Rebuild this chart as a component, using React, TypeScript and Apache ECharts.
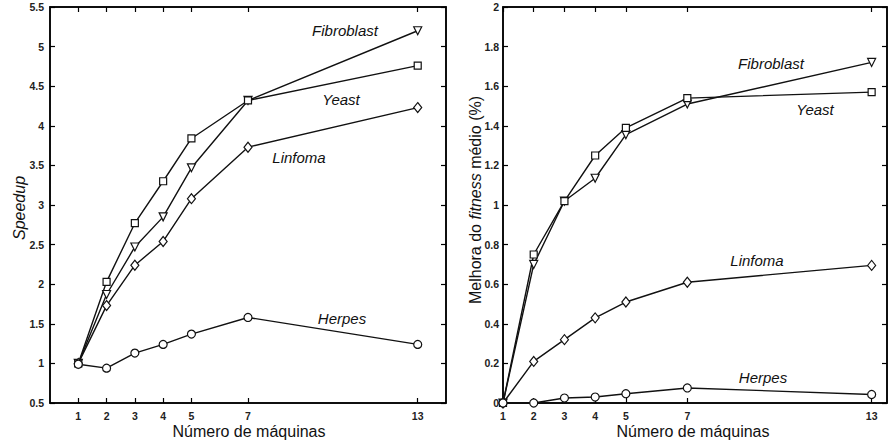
import React, { useEffect, useRef } from "react";
import * as echarts from "echarts";

const machines = [1, 2, 3, 4, 5, 7, 13];
const xTicks = [1, 2, 3, 4, 5, 7, 13];

const speedupFibroblast = [1.0, 1.87, 2.47, 2.85, 3.47, 4.32, 5.2];
const speedupYeast = [1.0, 2.03, 2.77, 3.3, 3.84, 4.32, 4.76];
const speedupLinfoma = [1.0, 1.73, 2.24, 2.54, 3.08, 3.73, 4.23];
const speedupHerpes = [0.99, 0.94, 1.13, 1.24, 1.37, 1.58, 1.24];

const fitnessFibroblast = [0, 0.7, 1.02, 1.135, 1.355, 1.51, 1.72];
const fitnessYeast = [0, 0.75, 1.02, 1.25, 1.39, 1.54, 1.57];
const fitnessLinfoma = [0, 0.21, 0.32, 0.43, 0.51, 0.61, 0.695];
const fitnessHerpes = [0, 0, 0.025, 0.03, 0.047, 0.076, 0.043];

const FONT = "'Liberation Sans', Arial, Helvetica, sans-serif";

export default function App() {
  const ref = useRef<HTMLDivElement>(null);
  useEffect(() => {
    if (!ref.current) return;
    const chart = echarts.init(ref.current, null, { renderer: "svg" });

    const axisLine = { show: true, onZero: false, lineStyle: { color: "#000", width: 1.5 } };
    const tick = (vals?: number[]) => ({
      show: true,
      inside: true,
      length: 5,
      lineStyle: { color: "#000", width: 1.2 },
      ...(vals ? { customValues: vals } : {}),
    });
    const label = {
      color: "#222",
      fontSize: 10.5,
      fontWeight: "bold",
      fontFamily: FONT,
      margin: 7,
    };

    const pair = (vals: number[]) => vals.map((v, i) => [machines[i], v]);

    const mk = (
      name: string,
      data: number[],
      symbol: string,
      size: number | number[],
      rot: number,
      xi: number,
      yi: number
    ) => ({
      type: "line",
      name,
      xAxisIndex: xi,
      yAxisIndex: yi,
      data: pair(data),
      symbol,
      symbolSize: size,
      symbolRotate: rot,
      showAllSymbol: true,
      lineStyle: { color: "#111", width: 1.4 },
      itemStyle: { color: "#fff", borderColor: "#111", borderWidth: 1.2 },
      z: 3,
    });

    const txt = (text: string, x: number, y: number) => ({
      type: "text",
      x,
      y,
      style: {
        text,
        font: `italic 15px ${FONT}`,
        fill: "#111",
        align: "center",
        verticalAlign: "middle",
      },
    });

    chart.setOption({
      animation: false,
      backgroundColor: "#fff",
      grid: [
        { left: 50, top: 7, width: 396, height: 396, show: true, borderColor: "#000", borderWidth: 1.5, backgroundColor: "transparent" },
        { left: 503, top: 7, width: 384, height: 396, show: true, borderColor: "#000", borderWidth: 1.5, backgroundColor: "transparent" },
      ],
      xAxis: [
        { gridIndex: 0, type: "value", min: 0, max: 14, position: "bottom", axisLine, axisTick: tick(xTicks), axisLabel: { ...label, customValues: xTicks }, splitLine: { show: false } },
        { gridIndex: 0, type: "value", min: 0, max: 14, position: "top", axisLine, axisTick: tick(xTicks), axisLabel: { show: false }, splitLine: { show: false } },
        { gridIndex: 1, type: "value", min: 1, max: 13.5, position: "bottom", axisLine, axisTick: tick(xTicks), axisLabel: { ...label, customValues: xTicks }, splitLine: { show: false } },
        { gridIndex: 1, type: "value", min: 1, max: 13.5, position: "top", axisLine, axisTick: tick(xTicks), axisLabel: { show: false }, splitLine: { show: false } },
      ],
      yAxis: [
        { gridIndex: 0, type: "value", min: 0.5, max: 5.5, interval: 0.5, position: "left", axisLine, axisTick: tick(), axisLabel: { ...label, margin: 6 }, splitLine: { show: false } },
        { gridIndex: 0, type: "value", min: 0.5, max: 5.5, interval: 0.5, position: "right", axisLine, axisTick: tick(), axisLabel: { show: false }, splitLine: { show: false } },
        { gridIndex: 1, type: "value", min: 0, max: 2, interval: 0.2, position: "left", axisLine, axisTick: tick(), axisLabel: { ...label, margin: 4 }, splitLine: { show: false } },
        { gridIndex: 1, type: "value", min: 0, max: 2, interval: 0.2, position: "right", axisLine, axisTick: tick(), axisLabel: { show: false }, splitLine: { show: false } },
      ],
      series: [
        mk("Fibroblast", speedupFibroblast, "triangle", 8, 180, 0, 0),
        mk("Yeast", speedupYeast, "rect", 7, 0, 0, 0),
        mk("Linfoma", speedupLinfoma, "diamond", [8, 10], 0, 0, 0),
        mk("Herpes", speedupHerpes, "circle", 8, 0, 0, 0),
        mk("Fibroblast", fitnessFibroblast, "triangle", 8, 180, 2, 2),
        mk("Yeast", fitnessYeast, "rect", 7, 0, 2, 2),
        mk("Linfoma", fitnessLinfoma, "diamond", [8, 10], 0, 2, 2),
        mk("Herpes", fitnessHerpes, "circle", 8, 0, 2, 2),
      ],
      graphic: [
        txt("Fibroblast", 345, 30),
        txt("Yeast", 341, 99),
        txt("Linfoma", 299, 157),
        txt("Herpes", 342, 318),
        txt("Fibroblast", 771, 63),
        txt("Yeast", 815, 109),
        txt("Linfoma", 757, 260),
        txt("Herpes", 763, 377),
        {
          type: "text",
          x: 249,
          y: 431,
          style: { text: "Número de máquinas", font: `16px ${FONT}`, fill: "#111", align: "center", verticalAlign: "middle" },
        },
        {
          type: "text",
          x: 693,
          y: 431,
          style: { text: "Número de máquinas", font: `16px ${FONT}`, fill: "#111", align: "center", verticalAlign: "middle" },
        },
        {
          type: "text",
          x: 19,
          y: 208,
          rotation: Math.PI / 2,
          style: { text: "Speedup", font: `italic 16px ${FONT}`, fill: "#111", align: "center", verticalAlign: "middle" },
        },
        {
          type: "text",
          x: 475,
          y: 200,
          rotation: Math.PI / 2,
          style: {
            text: "{n|Melhora do }{i|fitness}{n| médio (%)}",
            align: "center",
            verticalAlign: "middle",
            rich: {
              n: { font: `16px ${FONT}`, fill: "#111" },
              i: { font: `italic 16px ${FONT}`, fill: "#111" },
            },
          },
        },
      ],
    });
    return () => chart.dispose();
  }, []);

  return (
    <div
      ref={ref}
      style={{ position: "absolute", left: 0, top: 0, width: 892, height: 443, background: "#fff" }}
    />
  );
}
